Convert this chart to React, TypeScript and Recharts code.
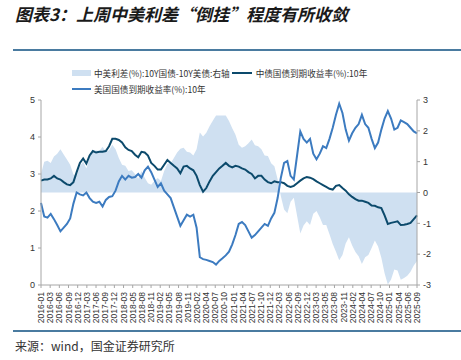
import { ComposedChart, Area, Line, XAxis, YAxis } from "recharts";

// 横轴标签（原图等距排列）
const dateLabels = [
  "2016-01", "2016-03", "2016-06", "2016-09", "2016-12", "2017-03", "2017-06",
  "2017-09", "2017-12", "2018-03", "2018-05", "2018-08", "2018-11", "2019-02",
  "2019-05", "2019-08", "2019-11", "2020-02", "2020-04", "2020-07", "2020-10",
  "2021-01", "2021-04", "2021-07", "2021-10", "2021-12", "2022-03", "2022-06",
  "2022-09", "2022-12", "2023-03", "2023-05", "2023-08", "2023-11", "2024-02",
  "2024-04", "2024-07", "2024-10", "2025-01", "2025-04", "2025-06", "2025-09",
];

// 中债国债到期收益率 10年 (%), 月度 2016-01 ~ 2025-09
const cnYield = [
  2.82, 2.85, 2.85, 2.88, 2.95, 2.88, 2.85, 2.78, 2.72, 2.70,
  2.78, 3.05, 3.30, 3.42, 3.28, 3.50, 3.62, 3.58, 3.60, 3.60,
  3.62, 3.75, 3.95, 3.95, 3.92, 3.85, 3.72, 3.65, 3.62, 3.52,
  3.45, 3.60, 3.58, 3.50, 3.30, 3.22, 3.12, 3.12, 3.25, 3.38,
  3.30, 3.22, 3.15, 3.02, 3.20, 3.22, 3.15, 3.10, 2.95, 2.70,
  2.52, 2.62, 2.80, 2.95, 3.05, 3.15, 3.22, 3.30, 3.22, 3.18,
  3.22, 3.20, 3.15, 3.12, 3.05, 3.00, 2.88, 2.95, 2.95, 2.85,
  2.78, 2.75, 2.80, 2.78, 2.78, 2.75, 2.68, 2.65, 2.68, 2.75,
  2.82, 2.88, 2.92, 2.90, 2.86, 2.80, 2.75, 2.70, 2.65, 2.60,
  2.58, 2.68, 2.70, 2.62, 2.55, 2.45, 2.38, 2.32, 2.28, 2.28,
  2.25, 2.22, 2.15, 2.14, 2.10, 2.08, 1.88, 1.65, 1.68, 1.70,
  1.72, 1.62, 1.63, 1.65, 1.68, 1.78, 1.88,
];

// 美国国债到期收益率 10年 (%)
const usYield = [
  2.22, 1.85, 1.82, 1.92, 1.78, 1.62, 1.45, 1.55, 1.65, 1.80,
  2.20, 2.50, 2.45, 2.42, 2.50, 2.35, 2.25, 2.22, 2.25, 2.12,
  2.30, 2.38, 2.40, 2.55, 2.80, 2.95, 2.85, 2.95, 2.90, 2.92,
  3.00, 2.90, 3.10, 3.20, 3.05, 2.85, 2.65, 2.75, 2.55, 2.45,
  2.35, 2.10, 1.85, 1.60, 1.75, 1.90, 1.85, 1.90, 1.55, 0.75,
  0.70, 0.68, 0.65, 0.62, 0.55, 0.65, 0.72, 0.80, 0.90, 1.10,
  1.35, 1.65, 1.70, 1.62, 1.45, 1.28, 1.35, 1.45, 1.55, 1.65,
  1.60, 1.80, 1.95, 2.35, 2.90, 3.30, 3.35, 2.95, 2.85, 3.50,
  4.15, 3.95, 3.85, 3.95, 3.55, 3.40, 3.55, 3.75, 3.70, 3.95,
  4.25, 4.60, 4.90, 4.65, 4.20, 3.90, 4.10, 4.25, 4.35, 4.60,
  4.35, 4.25, 3.95, 3.70, 3.85, 4.20, 4.50, 4.70, 4.50, 4.20,
  4.25, 4.45, 4.40, 4.35, 4.25, 4.15, 4.10,
];

// 中美利差 10Y国债-10Y美债 (%)，右轴
const spread = [
  0.60, 1.00, 1.03, 0.96, 1.17, 1.26, 1.40, 1.23, 1.07, 0.90,
  0.58, 0.55, 0.85, 1.00, 0.78, 1.15, 1.37, 1.36, 1.35, 1.48,
  1.32, 1.37, 1.55, 1.40, 1.12, 0.90, 0.87, 0.70, 0.72, 0.60,
  0.45, 0.70, 0.48, 0.30, 0.25, 0.37, 0.47, 0.37, 0.70, 0.93,
  0.95, 1.12, 1.30, 1.42, 1.45, 1.32, 1.30, 1.20, 1.40, 1.95,
  1.82, 1.94, 2.15, 2.33, 2.50, 2.50, 2.50, 2.50, 2.32, 2.08,
  1.87, 1.55, 1.45, 1.50, 1.60, 1.72, 1.53, 1.50, 1.40, 1.20,
  1.18, 0.95, 0.85, 0.43, -0.12, -0.55, -0.67, -0.30, -0.17, -0.75,
  -1.33, -1.07, -0.93, -1.05, -0.69, -0.60, -0.80, -1.05, -1.05, -1.35,
  -1.67, -1.92, -2.20, -2.03, -1.65, -1.45, -1.72, -1.93, -2.07, -2.32,
  -2.10, -2.03, -1.80, -1.56, -1.75, -2.12, -2.62, -2.98, -2.82, -2.50,
  -2.53, -2.83, -2.77, -2.70, -2.57, -2.37, -2.22,
];

const leftTicks = [0, 1, 2, 3, 4, 5];
const rightTicks = [-3, -2, -1, 0, 1, 2, 3];

const data = cnYield.map((cn, i) => ({ idx: i, cn, us: usYield[i], spread: spread[i] }));
const lastIdx = cnYield.length - 1;
const xTicks = dateLabels.map((_, i) => (i * lastIdx) / (dateLabels.length - 1));

const AREA_COLOR = "#cfe0f1";
const CN_COLOR = "#0c4a6c";
const US_COLOR = "#3c7bc0";
const AXIS_COLOR = "#a6a6a6";
const TEXT_COLOR = "#333";
const RULE_COLOR = "#4a7ba0";

function DateTick(props: any) {
  const { x, y, payload } = props;
  const k = Math.round((payload.value * (dateLabels.length - 1)) / lastIdx);
  return (
    <text
      transform={`translate(${x},${y + 2}) rotate(-90)`}
      textAnchor="end"
      dominantBaseline="central"
      fontSize={8.5}
      fill={TEXT_COLOR}
      fontFamily="'Liberation Sans', Arial, sans-serif"
    >
      {dateLabels[k]}
    </text>
  );
}

const legendText: React.CSSProperties = {
  fontSize: 8.6,
  color: TEXT_COLOR,
  fontFamily: "'Noto Sans CJK SC', sans-serif",
  whiteSpace: "nowrap",
};

export default function App() {
  return (
    <div
      style={{
        position: "absolute",
        left: 0,
        top: 0,
        width: 461,
        height: 360,
        background: "#fff",
        overflow: "hidden",
      }}
    >
      <div
        style={{
          position: "absolute",
          left: 15,
          top: 1,
          fontSize: 17,
          fontWeight: 700,
          fontStyle: "italic",
          color: "#1a1a1a",
          fontFamily: "'Noto Sans CJK SC', sans-serif",
          whiteSpace: "nowrap",
        }}
      >
        图表3：上周中美利差“倒挂”程度有所收敛
      </div>
      <div style={{ position: "absolute", left: 13, right: 0, top: 49, height: 2, background: RULE_COLOR }} />

      {/* 图例 */}
      <div style={{ position: "absolute", left: 72, top: 67, display: "flex", alignItems: "center" }}>
        <span style={{ display: "inline-block", width: 19, height: 6, background: AREA_COLOR, marginRight: 3 }} />
        <span style={legendText}>中美利差(%):10Y国债-10Y美债:右轴</span>
        <span style={{ display: "inline-block", width: 20, height: 2, background: CN_COLOR, margin: "0 4px 0 2px" }} />
        <span style={legendText}>中债国债到期收益率(%):10年</span>
      </div>
      <div style={{ position: "absolute", left: 72, top: 83, display: "flex", alignItems: "center" }}>
        <span style={{ display: "inline-block", width: 19, height: 2, background: US_COLOR, marginRight: 3 }} />
        <span style={legendText}>美国国债到期收益率(%):10年</span>
      </div>

      <div style={{ position: "absolute", left: 0, top: 0 }}>
        <ComposedChart width={461} height={330} data={data} margin={{ top: 100, right: 0, bottom: 0, left: 0 }}>
          <XAxis
            dataKey="idx"
            type="number"
            domain={[0, lastIdx]}
            ticks={xTicks}
            interval={0}
            height={45}
            tick={<DateTick />}
            tickSize={3}
            stroke={AXIS_COLOR}
          />
          <YAxis
            yAxisId="left"
            orientation="left"
            domain={[0, 5]}
            ticks={leftTicks}
            width={41}
            tickSize={3}
            tickMargin={3}
            stroke={AXIS_COLOR}
            tick={{ fontSize: 9, fill: TEXT_COLOR, fontFamily: "'Liberation Sans', Arial, sans-serif" }}
          />
          <YAxis
            yAxisId="right"
            orientation="right"
            domain={[-3, 3]}
            ticks={rightTicks}
            allowDataOverflow
            width={44}
            tickSize={3}
            tickMargin={3}
            stroke={AXIS_COLOR}
            tick={{ fontSize: 9, fill: TEXT_COLOR, fontFamily: "'Liberation Sans', Arial, sans-serif" }}
          />
          <Area
            yAxisId="right"
            dataKey="spread"
            type="linear"
            baseValue={0}
            fill={AREA_COLOR}
            fillOpacity={1}
            stroke="none"
            isAnimationActive={false}
          />
          <Line
            yAxisId="left"
            dataKey="cn"
            type="linear"
            stroke={CN_COLOR}
            strokeWidth={2}
            dot={false}
            isAnimationActive={false}
          />
          <Line
            yAxisId="left"
            dataKey="us"
            type="linear"
            stroke={US_COLOR}
            strokeWidth={2}
            dot={false}
            isAnimationActive={false}
          />
        </ComposedChart>
      </div>

      <div style={{ position: "absolute", left: 13, right: 0, top: 330, height: 2, background: RULE_COLOR }} />
      <div
        style={{
          position: "absolute",
          left: 15,
          top: 337,
          fontSize: 12,
          color: TEXT_COLOR,
          fontFamily: "'Noto Sans CJK SC', sans-serif",
          whiteSpace: "nowrap",
        }}
      >
        来源：wind，国金证券研究所
      </div>
    </div>
  );
}
